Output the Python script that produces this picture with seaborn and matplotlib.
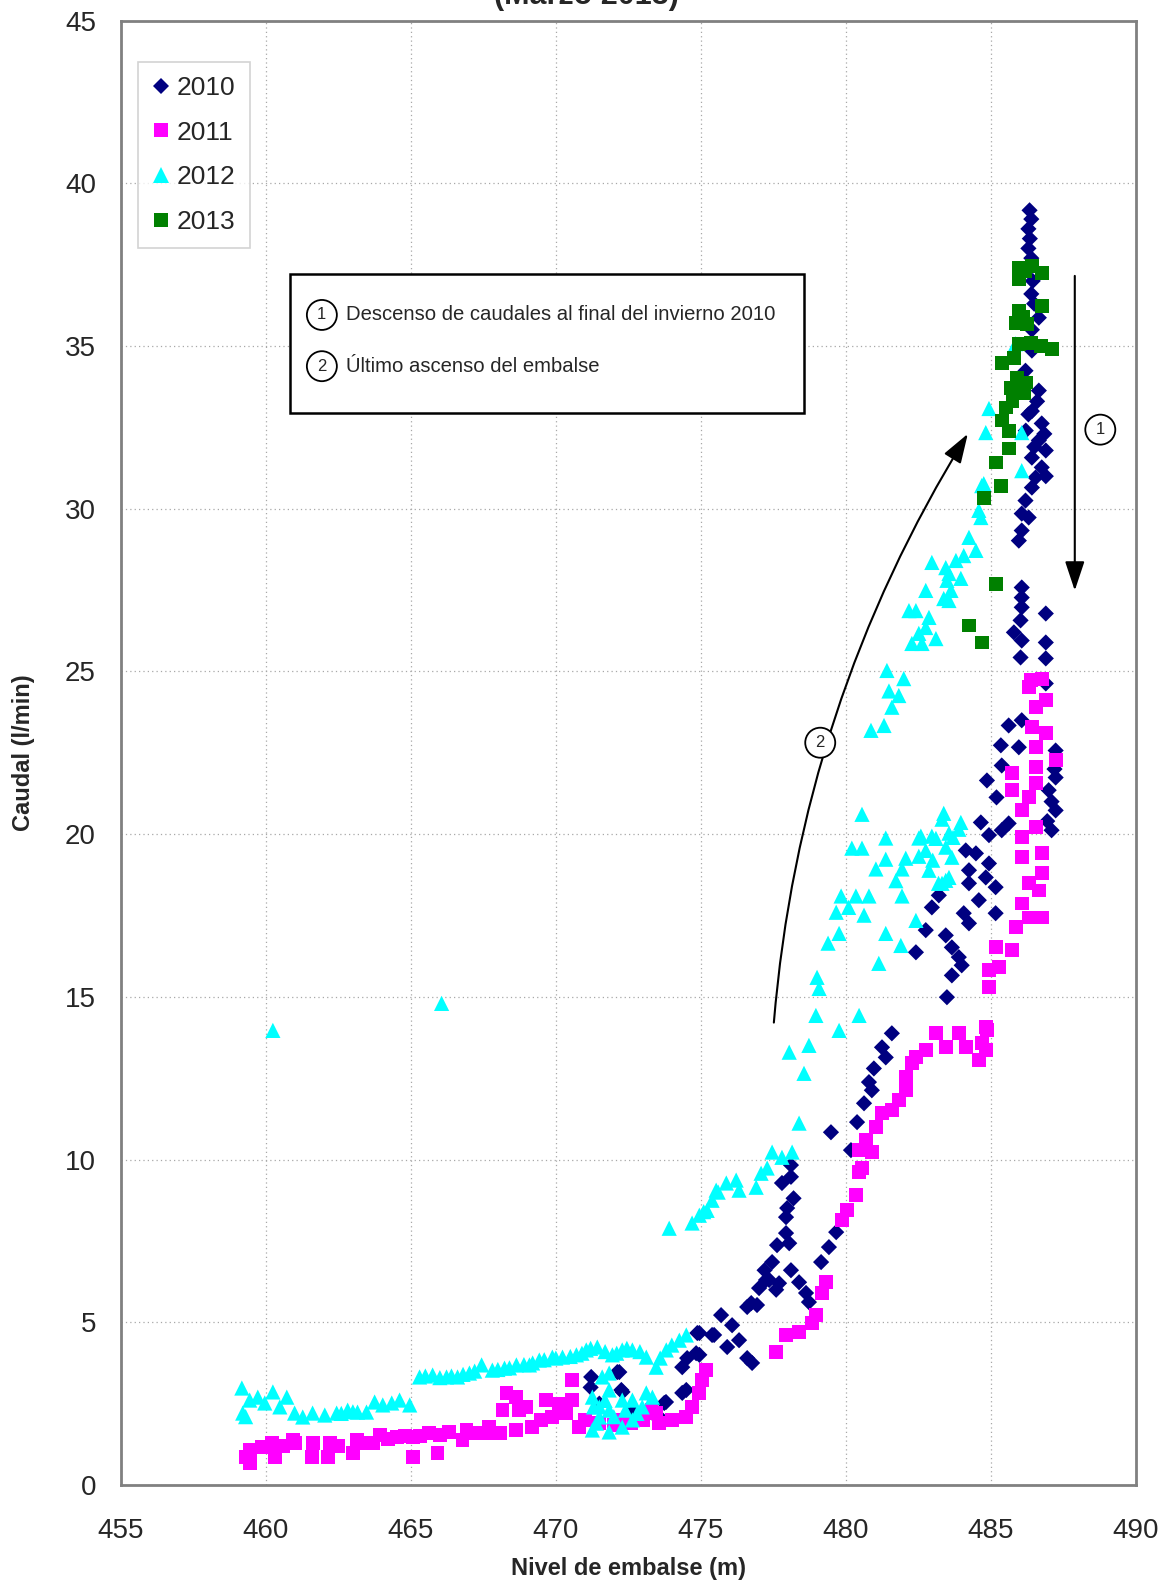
import pandas as pd
import seaborn as sns
import matplotlib.pyplot as plt
from matplotlib.patches import Rectangle

# 2010 - nivel (m), caudal (l/min)
p2010 = [
    (486.34, 39.17), (486.4, 38.9), (486.3, 38.6), (486.35, 38.3), (486.3, 38.0), (486.4, 37.7),
    (486.3, 37.4), (486.45, 37.0), (486.4, 36.6), (486.5, 36.3), (486.66, 35.87), (486.42, 35.5),
    (486.42, 34.86), (486.2, 34.24), (486.66, 33.63), (486.42, 33.0), (486.76, 32.62), (486.21, 32.4),
    (486.66, 32.1), (486.9, 31.79), (486.42, 31.57), (486.76, 31.27), (486.55, 30.96), (486.9, 31.0),
    (486.42, 30.65), (486.2, 30.25), (486.07, 29.85), (486.31, 29.73), (486.07, 29.33), (485.97, 29.02),
    (486.6, 33.3), (486.3, 32.9), (486.85, 32.3), (486.5, 31.9),
    (486.07, 27.58), (486.07, 27.27), (486.07, 26.97), (486.9, 26.78), (486.03, 26.57), (485.8, 26.2),
    (486.07, 25.95), (486.9, 25.89), (486.03, 25.43), (486.9, 25.4), (486.9, 24.63),
    (485.62, 23.34), (486.07, 23.5), (485.35, 22.73), (485.97, 22.67), (487.24, 22.57), (485.38, 22.11),
    (484.87, 21.65), (487.24, 21.74), (487.0, 21.35), (485.2, 21.13), (487.24, 20.73), (484.66, 20.36),
    (485.62, 20.33), (487.1, 20.12), (484.94, 19.97), (485.38, 20.12), (484.49, 19.41), (484.94, 19.1),
    (484.14, 19.5), (484.25, 18.89), (484.83, 18.67), (485.17, 18.37), (484.25, 18.49), (484.59, 17.97),
    (484.07, 17.57), (485.17, 17.57), (484.25, 17.26), (482.76, 17.05), (483.45, 16.89), (482.97, 17.75),
    (483.21, 18.12), (483.66, 16.52), (483.9, 16.22), (484.0, 15.97), (482.42, 16.37), (483.66, 15.66),
    (483.49, 14.99), (487.1, 21.0), (486.95, 20.4), (487.2, 22.0),
    (481.59, 13.88), (481.25, 13.45), (481.38, 13.14), (480.97, 12.8), (480.8, 12.38), (480.9, 12.13),
    (480.63, 11.73), (480.39, 11.15), (479.49, 10.84), (480.18, 10.29),
    (478.11, 9.83), (477.8, 9.28), (478.2, 8.81), (477.98, 8.51), (477.94, 8.23), (477.94, 7.74),
    (477.63, 7.37), (478.05, 7.43), (477.46, 6.85), (477.36, 6.3), (477.7, 6.2), (477.01, 6.05),
    (478.11, 6.6), (478.39, 6.23), (478.63, 5.9), (478.73, 5.62), (476.6, 5.47), (476.94, 5.53),
    (475.7, 5.22), (479.67, 7.77), (479.42, 7.31), (479.15, 6.85), (477.25, 6.3), (476.74, 5.59),
    (476.08, 4.91), (474.95, 4.67), (475.46, 4.61), (476.32, 4.45), (475.91, 4.24), (476.6, 3.9),
    (476.77, 3.75), (474.84, 4.05), (474.53, 3.9), (474.36, 3.62), (472.12, 3.47), (474.5, 2.92),
    (473.74, 2.52), (473.57, 2.0), (472.26, 2.92), (471.22, 3.32), (472.19, 3.47), (472.3, 2.86),
    (473.8, 2.55), (474.36, 2.83), (474.95, 4.0), (474.88, 4.67), (475.39, 4.61), (473.67, 2.0),
    (471.2, 3.0), (471.5, 2.5), (472.6, 2.3), (477.2, 6.6), (477.6, 6.0), (478.11, 9.47),
]

p2011 = [
    (459.44, 0.68), (459.44, 1.07), (459.3, 0.85), (459.86, 1.17), (460.3, 0.86), (460.2, 1.29),
    (460.92, 1.38), (461.58, 0.86), (461.61, 1.29), (462.13, 0.86), (462.2, 1.29), (462.99, 0.98),
    (463.13, 1.38), (463.68, 1.29), (463.92, 1.54), (464.51, 1.47), (465.06, 0.86), (465.06, 1.47),
    (465.64, 1.6), (465.92, 0.98), (466.33, 1.63), (466.78, 1.38), (466.92, 1.69), (467.61, 1.6),
    (467.71, 1.78), (468.06, 1.6), (468.16, 2.3), (468.3, 2.83), (468.64, 2.7), (468.74, 2.3),
    (468.64, 1.69), (468.99, 2.4), (469.19, 1.78), (469.67, 2.61), (469.88, 2.09), (470.36, 2.3),
    (470.57, 3.22), (470.81, 1.78), (470.57, 2.61), (470.36, 2.21), (471.5, 1.9), (472.0, 1.85),
    (472.6, 1.9), (473.0, 2.0), (473.47, 2.21), (473.57, 1.9), (474.02, 2.0), (474.5, 2.09),
    (474.7, 2.4), (474.95, 2.83), (475.05, 3.22), (475.19, 3.53),
    (460.6, 1.2), (461.0, 1.3), (462.5, 1.2), (463.4, 1.3), (464.2, 1.4), (464.8, 1.5), (465.3, 1.5),
    (466.0, 1.55), (467.2, 1.6), (467.9, 1.6), (469.5, 2.0), (470.1, 2.5), (471.0, 2.0), (472.3, 2.0),
    (473.3, 2.3),
    (477.6, 4.08), (477.94, 4.61), (478.39, 4.7), (478.83, 4.98), (478.97, 5.22), (479.18, 5.9),
    (479.32, 6.23), (479.87, 8.14), (480.04, 8.44), (480.35, 8.9), (480.46, 9.61), (480.56, 9.74),
    (480.46, 10.29), (480.7, 10.6), (480.9, 10.23), (481.04, 11.0), (481.25, 11.43), (481.59, 11.52),
    (481.83, 11.82), (482.07, 12.13), (482.07, 12.53), (482.28, 12.96), (482.42, 13.14), (482.76, 13.36),
    (483.11, 13.88), (483.45, 13.45), (483.9, 13.88), (484.14, 13.45), (484.59, 13.05), (484.83, 14.07),
    (484.69, 13.57), (484.87, 13.97), (484.83, 13.36), (484.94, 15.29), (484.94, 15.82), (485.17, 16.52),
    (485.28, 15.91), (485.73, 16.43), (485.86, 17.14), (486.31, 17.44), (486.76, 17.44), (486.07, 17.87),
    (486.66, 18.27), (486.31, 18.49), (486.76, 18.8), (486.07, 19.29), (486.76, 19.41), (486.07, 19.9),
    (486.55, 20.21), (486.07, 20.73), (486.31, 21.13), (485.73, 21.35), (485.73, 21.87), (486.55, 21.56),
    (486.55, 22.05), (487.24, 22.27), (486.55, 22.67), (486.9, 23.1), (486.42, 23.28), (486.55, 23.9),
    (486.9, 24.11), (486.31, 24.51), (486.76, 24.78), (486.4, 24.75),
]

p2012 = [
    (459.17, 2.98), (459.2, 2.21), (459.3, 2.1), (459.44, 2.61), (459.72, 2.7), (459.96, 2.52),
    (460.24, 2.86), (460.48, 2.4), (460.72, 2.7), (460.99, 2.21), (461.27, 2.09), (461.61, 2.21),
    (462.03, 2.15), (462.44, 2.21), (462.82, 2.3), (463.16, 2.24), (463.47, 2.24), (463.75, 2.55),
    (464.03, 2.46), (464.34, 2.52), (464.61, 2.61), (464.96, 2.46), (465.3, 3.32), (465.75, 3.38),
    (466.23, 3.32), (466.61, 3.32), (467.02, 3.44), (467.44, 3.69), (467.81, 3.53), (468.23, 3.59),
    (468.64, 3.69), (469.09, 3.69), (469.43, 3.84), (469.88, 3.93), (470.23, 3.93), (470.71, 4.0),
    (471.05, 4.15), (471.43, 4.24), (471.95, 4.0), (472.29, 4.15), (472.64, 4.15), (473.12, 3.93),
    (473.46, 3.62), (473.81, 4.15), (474.26, 4.45), (474.5, 4.61),
    (462.6, 2.2), (463.0, 2.25), (465.5, 3.35), (466.0, 3.3), (466.4, 3.35), (466.8, 3.4), (467.2, 3.5),
    (468.0, 3.55), (468.4, 3.6), (468.9, 3.7), (469.2, 3.75), (469.6, 3.85), (470.0, 3.9), (470.5, 3.95),
    (470.9, 4.05), (471.2, 4.2), (471.7, 4.1), (472.1, 4.05), (472.45, 4.2), (472.9, 4.1), (473.6, 3.9),
    (474.0, 4.3),
    (471.26, 2.7), (471.5, 2.09), (471.26, 1.69), (471.84, 2.92), (471.84, 2.3), (471.84, 1.63),
    (471.6, 3.32), (472.29, 2.61), (472.64, 2.61), (472.98, 2.4), (473.33, 2.7), (472.29, 1.78),
    (472.64, 2.0), (471.5, 2.4), (471.84, 3.44), (473.12, 2.83), (471.4, 1.9), (472.0, 2.1),
    (472.4, 2.3), (472.8, 2.2), (471.7, 2.6), (471.3, 2.4),
    (473.91, 7.89), (474.7, 8.05), (474.95, 8.29), (475.22, 8.44), (475.39, 8.75), (475.53, 9.06),
    (475.88, 9.28), (476.22, 9.37), (476.32, 9.06), (476.91, 9.15), (477.08, 9.58), (477.29, 9.74),
    (477.46, 10.23), (477.8, 10.07), (478.15, 10.23), (478.39, 11.12), (475.1, 8.4), (475.6, 9.0),
    (478.05, 13.3), (478.73, 13.51), (478.56, 12.65), (479.77, 13.97), (478.97, 14.43), (480.46, 14.43),
    (479.08, 15.26), (479.01, 15.6), (481.14, 16.03), (479.39, 16.65), (479.77, 16.95), (481.38, 16.95),
    (481.9, 16.58), (479.67, 17.6), (480.1, 17.75), (480.63, 17.51), (482.42, 17.35), (479.84, 18.1),
    (480.35, 18.1), (480.8, 18.1), (481.94, 18.1), (481.73, 18.57), (481.94, 18.93), (481.04, 18.93),
    (481.38, 19.23), (482.07, 19.26), (482.52, 19.32), (480.21, 19.57), (480.56, 19.57), (481.38, 19.88),
    (482.52, 19.88), (482.97, 19.94), (483.56, 20.03), (483.9, 20.15), (483.32, 20.46), (480.56, 20.61),
    (483.11, 19.87), (483.45, 19.6), (483.66, 19.29), (483.56, 18.67), (483.32, 18.49), (482.76, 19.5),
    (482.59, 19.94), (483.38, 20.64), (483.97, 20.36), (482.87, 18.89), (483.45, 18.58), (483.2, 18.49),
    (483.0, 19.2), (483.7, 19.9),
    (481.42, 25.03), (482.0, 24.78), (481.49, 24.4), (481.83, 24.26), (481.59, 23.9), (480.87, 23.19),
    (481.32, 23.34),
    (482.28, 25.86), (482.63, 25.86), (483.11, 26.01), (482.52, 26.17), (482.76, 26.35), (482.87, 26.66),
    (482.18, 26.87), (482.42, 26.87), (483.38, 27.24), (483.56, 27.18), (482.76, 27.49), (483.63, 27.49),
    (483.49, 27.8), (483.97, 27.86), (483.56, 28.01), (482.97, 28.35), (483.45, 28.19), (483.8, 28.41),
    (484.07, 28.56), (484.49, 28.72), (484.25, 29.12), (484.66, 29.73), (484.59, 29.95), (484.69, 30.71),
    (484.76, 30.77), (484.83, 32.34), (484.94, 33.08), (486.07, 32.34), (486.07, 31.17), (485.86, 35.07),
    (460.24, 13.97), (466.06, 14.8),
]

p2013 = [
    (485.97, 37.41), (486.42, 37.47), (486.76, 37.25), (485.97, 37.07), (486.2, 37.3), (486.76, 36.24),
    (485.97, 36.09), (485.86, 35.72), (486.24, 35.69), (487.1, 34.92), (486.73, 35.01), (486.38, 35.1),
    (485.97, 35.07), (485.38, 34.49), (485.8, 34.64), (485.9, 34.03), (486.21, 33.88), (485.69, 33.72),
    (486.14, 33.54), (485.52, 33.11), (485.38, 32.71), (485.62, 32.4), (485.62, 31.85), (485.17, 31.42),
    (485.35, 30.71), (484.76, 30.34), (485.17, 27.7), (484.25, 26.41), (484.69, 25.89), (486.1, 35.9),
    (486.0, 33.8), (485.75, 33.3),
]

years = ["2010", "2011", "2012", "2013"]
colors = {"2010": "#000080", "2011": "#FF00FF", "2012": "#00FFFF", "2013": "#008000"}
markers = {"2010": "D", "2011": "s", "2012": "^", "2013": "s"}
sizes = {"2010": 68, "2011": 100, "2012": 120, "2013": 100}

frames = []
for yr, pts in zip(years, [p2010, p2011, p2012, p2013]):
    d = pd.DataFrame(pts, columns=["nivel", "caudal"])
    d["año"] = yr
    frames.append(d)
df = pd.concat(frames, ignore_index=True)

sns.set_style("white")
plt.rcParams["font.family"] = ["Liberation Sans", "DejaVu Sans"]

fig, ax = plt.subplots(figsize=(11.72, 15.84), dpi=100)
fig.subplots_adjust(left=0.1032, right=0.969, top=0.987, bottom=0.0625)

sns.scatterplot(data=df, x="nivel", y="caudal", hue="año", style="año", size="año",
                hue_order=years, style_order=years, size_order=years,
                palette=colors, markers=markers, sizes=sizes,
                linewidth=0, alpha=1, ax=ax, zorder=3)

ax.set_xlim(455, 490)
ax.set_ylim(0, 45)
ax.set_xticks(range(455, 491, 5))
ax.set_yticks(range(0, 46, 5))
ax.tick_params(axis="both", labelsize=20, direction="out", length=6, width=1.2, color="#808080")
ax.tick_params(axis="x", pad=18)
ax.tick_params(axis="y", pad=12)
ax.grid(True, linestyle=(0, (1, 2.5)), color="#a8a8a8", linewidth=0.9)
ax.set_axisbelow(True)
for sp in ax.spines.values():
    sp.set_visible(True)
    sp.set_color("#808080")
    sp.set_linewidth(2)

ax.set_xlabel("Nivel de embalse (m)", fontsize=17, fontweight="bold")
ax.set_ylabel("Caudal (l/min)", fontsize=17, fontweight="bold")
ax.xaxis.set_label_coords(0.5, -0.049)
ax.yaxis.set_label_coords(-0.085, 0.5)

fig.text(0.5, 0.9975, "(Marzo 2013)", ha="center", va="baseline", fontsize=22, fontweight="bold")

handles, labels = ax.get_legend_handles_labels()
leg = ax.legend(handles, labels, loc="upper left", bbox_to_anchor=(0.017, 0.972), borderaxespad=0,
                fontsize=19, frameon=True, fancybox=False, edgecolor="#c8c8c8",
                handlelength=0.6, handletextpad=0.3, labelspacing=0.78, borderpad=0.55)
leg.get_frame().set_linewidth(1.2)

# annotation box
ax.add_patch(Rectangle((0.167, 0.732), 0.506, 0.095, transform=ax.transAxes,
                       facecolor="white", edgecolor="black", linewidth=1.8, zorder=5))
circ = dict(boxstyle="circle,pad=0.45", fc="white", ec="black", lw=1.3)
ax.text(0.198, 0.799, "1", transform=ax.transAxes, fontsize=12, ha="center", va="center",
        bbox=circ, zorder=6)
ax.text(0.222, 0.799, "Descenso de caudales al final del invierno 2010", transform=ax.transAxes,
        fontsize=14.6, ha="left", va="center", zorder=6)
ax.text(0.198, 0.764, "2", transform=ax.transAxes, fontsize=12, ha="center", va="center",
        bbox=circ, zorder=6)
ax.text(0.222, 0.764, "Último ascenso del embalse", transform=ax.transAxes,
        fontsize=14.6, ha="left", va="center", zorder=6)

# arrows
ax.annotate("", xy=(487.9, 27.4), xytext=(487.9, 37.24),
            arrowprops=dict(arrowstyle="-|>,head_length=0.9,head_width=0.3", color="black",
                            lw=1.5, mutation_scale=20), zorder=6)
ax.annotate("", xy=(484.21, 32.3), xytext=(477.52, 14.21),
            arrowprops=dict(arrowstyle="-|>,head_length=0.9,head_width=0.3", color="black",
                            lw=1.5, mutation_scale=20, connectionstyle="arc3,rad=-0.12",
                            shrinkA=0, shrinkB=0), zorder=6)
ax.text(488.78, 32.43, "1", fontsize=12, ha="center", va="center", bbox=circ, zorder=6)
ax.text(479.12, 22.81, "2", fontsize=12, ha="center", va="center", bbox=circ, zorder=6)

fig.savefig("out.png", dpi=100)
